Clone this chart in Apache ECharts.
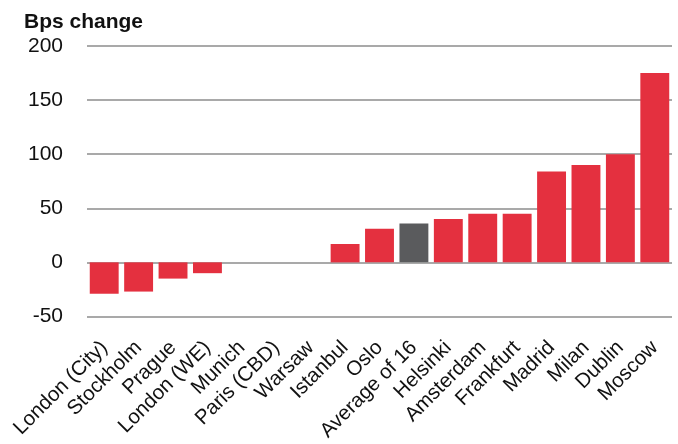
<!DOCTYPE html>
<html>
<head>
<meta charset="utf-8">
<script src="https://cdn.jsdelivr.net/npm/echarts@6/dist/echarts.min.js"></script>
<style>
html,body{margin:0;padding:0;background:#fff;}
#chart{width:678px;height:444px;}
</style>
</head>
<body>
<div id="chart"></div>
<script>
const categories = ["London (City)","Stockholm","Prague","London (WE)","Munich","Paris (CBD)","Warsaw","Istanbul","Oslo","Average of 16","Helsinki","Amsterdam","Frankfurt","Madrid","Milan","Dublin","Moscow"];
const values = [-29,-27,-15,-10,0,0,0,17,31,36,40,45,45,84,90,100,175];
const highlightCategory = "Average of 16";
const yTicks = {min:-50, max:200, interval:50};

const RED = "#e4303f", GREY = "#5a5b5d";
const chart = echarts.init(document.getElementById('chart'), null, {renderer:'canvas'});
chart.setOption({
  animation:false,
  textStyle:{fontFamily:"Liberation Sans, Arial, sans-serif"},
  title:{text:"Bps change", left:19, top:7,
    textStyle:{fontSize:21, fontWeight:'bold', color:'#111', fontFamily:"Liberation Sans, Arial, sans-serif"}},
  grid:{left:87, right:6, top:46, bottom:127, containLabel:false},
  xAxis:{type:'category', data:categories,
    axisLine:{show:false}, axisTick:{show:false},
    axisLabel:{rotate:45, interval:0, margin:28, fontSize:20.5, color:'#111'}},
  yAxis:{type:'value', min:yTicks.min, max:yTicks.max, interval:yTicks.interval,
    axisLine:{show:false}, axisTick:{show:false},
    axisLabel:{fontSize:21, color:'#111', margin:24},
    splitLine:{lineStyle:{color:'#8c8c8c', width:1.5}}},
  series:[{type:'bar', barCategoryGap:'16%',
    data:values.map((v,i)=>({value:v, itemStyle:{color: categories[i]===highlightCategory?GREY:RED}}))}]
});
</script>
</body>
</html>
